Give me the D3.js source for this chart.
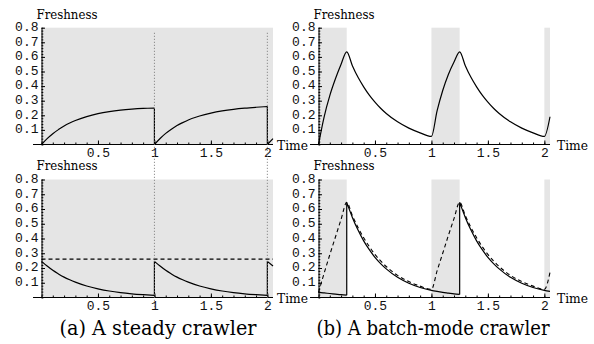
<!DOCTYPE html>
<html>
<head>
<meta charset="utf-8">
<script src="https://cdn.jsdelivr.net/npm/d3@7"></script>
<style>
body { margin: 0; background: #fff; }
.shade { fill: #e5e5e5; }
.curve { fill: none; stroke: #000; stroke-width: 1.2; }
.dashed { fill: none; stroke: #000; stroke-width: 1.1; stroke-dasharray: 4,3; }
.sync { stroke: #777; stroke-width: 1; stroke-dasharray: 1,2; }
.axisLine { stroke: #000; stroke-width: 1; }
.serif { font-family: "DejaVu Serif", "Liberation Serif", serif; fill: #000; }
</style>
</head>
<body>
<svg id="chart"></svg>
<script>
var width = 594;
var height = 344;
var mono = "'Liberation Mono', 'DejaVu Sans Mono', monospace";

// ticks
var yTicks = [0.1, 0.2, 0.3, 0.4, 0.5, 0.6, 0.7, 0.8];
var yTickLabels = ["0.1", "0.2", "0.3", "0.4", "0.5", "0.6", "0.7", "0.8"];
var xTicks = [0.5, 1, 1.5, 2];
var xTickLabels = ["0.5", "1", "1.5", "2"];

// (a) steady crawler
var syncTimes = [1, 2];
var steadyWindows = [[0, 2.05]];
var steadyTopT = [0, 0.05, 0.1, 0.15, 0.2, 0.25, 0.3, 0.4, 0.5, 0.6, 0.7, 0.8, 0.9, 1,
                  1, 1.05, 1.1, 1.15, 1.2, 1.25, 1.3, 1.4, 1.5, 1.6, 1.7, 1.8, 1.9, 2,
                  2, 2.05];
var steadyTopF = [0, 0.040, 0.074, 0.102, 0.127, 0.147, 0.164, 0.191, 0.211, 0.225, 0.235, 0.242, 0.247, 0.250,
                  0, 0.041, 0.076, 0.105, 0.130, 0.150, 0.168, 0.195, 0.215, 0.230, 0.241, 0.249, 0.255, 0.260,
                  0, 0.040];
var steadyBottomT = [0, 0.05, 0.1, 0.15, 0.2, 0.25, 0.3, 0.4, 0.5, 0.6, 0.7, 0.8, 0.9, 1,
                     1, 1.05, 1.1, 1.15, 1.2, 1.25, 1.3, 1.4, 1.5, 1.6, 1.7, 1.8, 1.9, 2,
                     2, 2.05];
var steadyBottomF = [0.245, 0.213, 0.184, 0.160, 0.138, 0.120, 0.104, 0.078, 0.059, 0.044, 0.033, 0.025, 0.019, 0.014,
                     0.245, 0.213, 0.184, 0.160, 0.138, 0.120, 0.104, 0.078, 0.059, 0.044, 0.033, 0.025, 0.019, 0.014,
                     0.245, 0.213];
var steadyMean = [0.26];

// (b) batch-mode crawler
var batchWindows = [[0, 0.25], [1, 1.25], [2, 2.05]];
var batchTopT = [0, 0.05, 0.1, 0.15, 0.2, 0.25, 0.3, 0.35, 0.4, 0.45, 0.5, 0.55, 0.6, 0.7, 0.8, 0.9, 1,
                 1.05, 1.1, 1.15, 1.2, 1.25, 1.3, 1.35, 1.4, 1.45, 1.5, 1.55, 1.6, 1.7, 1.8, 1.9, 2, 2.05];
var batchTopF = [0, 0.19, 0.335, 0.45, 0.55, 0.635, 0.54, 0.46, 0.395, 0.338, 0.29, 0.248, 0.212, 0.155, 0.112, 0.08, 0.055,
                 0.23, 0.37, 0.48, 0.565, 0.635, 0.54, 0.46, 0.395, 0.338, 0.29, 0.248, 0.212, 0.155, 0.112, 0.08, 0.055, 0.19];
var batchSolidT = [0, 0.05, 0.1, 0.15, 0.2, 0.25,
                   0.25, 0.3, 0.35, 0.4, 0.45, 0.5, 0.55, 0.6, 0.7, 0.8, 0.9, 1, 1.05, 1.1, 1.15, 1.2, 1.25,
                   1.25, 1.3, 1.35, 1.4, 1.45, 1.5, 1.55, 1.6, 1.7, 1.8, 1.9, 2, 2.05];
var batchSolidF = [0.035, 0.031, 0.027, 0.023, 0.019, 0.016,
                   0.645, 0.543, 0.457, 0.384, 0.324, 0.272, 0.230, 0.194, 0.137, 0.097, 0.068, 0.048, 0.041, 0.035, 0.030, 0.025, 0.021,
                   0.645, 0.543, 0.457, 0.384, 0.324, 0.272, 0.230, 0.194, 0.137, 0.097, 0.068, 0.048, 0.041];
var batchDashT = [0, 0.05, 0.1, 0.15, 0.2, 0.25, 0.3, 0.35, 0.4, 0.45, 0.5, 0.55, 0.6, 0.7, 0.8, 0.9, 1,
                  1.05, 1.1, 1.15, 1.2, 1.25, 1.3, 1.35, 1.4, 1.45, 1.5, 1.55, 1.6, 1.7, 1.8, 1.9, 2, 2.05];
var batchDashF = [0.035, 0.165, 0.29, 0.41, 0.53, 0.645, 0.555, 0.475, 0.405, 0.345, 0.292, 0.248, 0.21, 0.15, 0.108, 0.077, 0.055,
                  0.18, 0.3, 0.42, 0.535, 0.645, 0.555, 0.475, 0.405, 0.345, 0.292, 0.248, 0.21, 0.15, 0.108, 0.077, 0.055, 0.17];

var svg = d3.select("#chart")
.attr("width", width)
.attr("height", height);

var leftX = d3.scaleLinear().domain([0, 2.05]).range([41.5, 273]);
var rightX = d3.scaleLinear().domain([0, 2.05]).range([318.5, 550]);
var topY = d3.scaleLinear().domain([0, 0.8]).range([144.5, 27.7]);
var bottomY = d3.scaleLinear().domain([0, 0.8]).range([297.5, 179.5]);

function drawFrame(x, y, windows, timeDx) {

	var g = svg.append("g");

	g.selectAll("rect.shade")
	.data(windows)
	.enter().append("rect")
	.attr("class", "shade")
	.attr("x", function(d) { return x(d[0]); })
	.attr("y", y(0.8))
	.attr("width", function(d) { return x(d[1]) - x(d[0]); })
	.attr("height", y(0) - y(0.8));

	// minor ticks
	g.append("g")
	.attr("transform", "translate(" + [x(0), 0] + ")")
	.call(d3.axisLeft(y).tickValues(y.ticks(40)).tickSize(-1.8).tickFormat(""))
	.call(function(a) { a.select(".domain").remove(); });
	g.append("g")
	.attr("transform", "translate(" + [0, y(0)] + ")")
	.call(d3.axisBottom(x).tickValues(x.ticks(20)).tickSize(-2).tickFormat(""))
	.call(function(a) { a.select(".domain").remove(); });

	var yAxis = g.append("g")
	.attr("transform", "translate(" + [x(0), 0] + ")")
	.call(d3.axisLeft(y)
		.tickValues(yTicks)
		.tickFormat(function(d, i) { return yTickLabels[i]; })
		.tickSizeInner(-3.5)
		.tickSizeOuter(0)
		.tickPadding(3));
	yAxis.selectAll("text")
	.attr("dy", "0.22em");

	var xAxis = g.append("g")
	.attr("transform", "translate(" + [0, y(0)] + ")")
	.call(d3.axisBottom(x)
		.tickValues(xTicks)
		.tickFormat(function(d, i) { return xTickLabels[i]; })
		.tickSizeInner(-4)
		.tickSizeOuter(0)
		.tickPadding(3.5));
	xAxis.select(".domain").remove();

	g.selectAll(".tick text")
	.attr("font-family", mono)
	.attr("font-size", "13px")
	.attr("fill", "#111");

	g.append("line")
	.attr("class", "axisLine")
	.attr("x1", x(-0.075))
	.attr("x2", x(2.05))
	.attr("y1", y(0))
	.attr("y2", y(0));

	g.append("text")
	.attr("class", "serif")
	.attr("font-size", "13.7px")
	.attr("x", x(0) - 5)
	.attr("y", y(0.8) - 9.2)
	.attr("textLength", 61)
	.attr("lengthAdjust", "spacingAndGlyphs")
	.text("Freshness");

	g.append("text")
	.attr("class", "serif")
	.attr("font-size", "13.7px")
	.attr("x", x(2.05) + timeDx)
	.attr("y", y(0) + 5)
	.attr("textLength", 31)
	.attr("lengthAdjust", "spacingAndGlyphs")
	.text("Time");

	return g;
}

function drawCurve(g, x, y, t, f, cls) {
	var line = d3.line()
	.x(function(d) { return x(d[0]); })
	.y(function(d) { return y(d[1]); })
	.curve(d3.curveMonotoneX);
	// split where time repeats so jumps stay vertical
	var parts = [[]];
	d3.zip(t, f).forEach(function(p, i) {
		if (i > 0 && t[i] === t[i - 1]) {
			var last = parts[parts.length - 1];
			parts.push([last[last.length - 1], p]);
			parts.push([p]);
		} else {
			parts[parts.length - 1].push(p);
		}
	});
	g.append("path")
	.attr("class", cls)
	.attr("d", parts.map(function(p) { return line(p); }).join(""));
}

var gTopLeft = drawFrame(leftX, topY, steadyWindows, 4);
var gBottomLeft = drawFrame(leftX, bottomY, steadyWindows, 4);
var gTopRight = drawFrame(rightX, topY, batchWindows, 7);
var gBottomRight = drawFrame(rightX, bottomY, batchWindows, 7);

// synchronisation marks across both steady panels
svg.selectAll("line.sync")
.data(syncTimes)
.enter().append("line")
.attr("class", "sync")
.attr("x1", function(d) { return leftX(d); })
.attr("x2", function(d) { return leftX(d); })
.attr("y1", topY(0.765))
.attr("y2", bottomY(-0.07));

drawCurve(gTopLeft, leftX, topY, steadyTopT, steadyTopF, "curve");
drawCurve(gBottomLeft, leftX, bottomY, steadyBottomT, steadyBottomF, "curve");
gBottomLeft.selectAll("line.mean")
.data(steadyMean)
.enter().append("line")
.attr("class", "dashed")
.attr("x1", leftX(0))
.attr("x2", leftX(2.05))
.attr("y1", function(d) { return bottomY(d); })
.attr("y2", function(d) { return bottomY(d); });

drawCurve(gTopRight, rightX, topY, batchTopT, batchTopF, "curve");
drawCurve(gBottomRight, rightX, bottomY, batchSolidT, batchSolidF, "curve");
drawCurve(gBottomRight, rightX, bottomY, batchDashT, batchDashF, "dashed");

svg.append("text")
.attr("class", "serif")
.attr("font-size", "21px")
.attr("x", 158)
.attr("y", 335)
.attr("text-anchor", "middle")
.attr("textLength", 197)
.attr("lengthAdjust", "spacingAndGlyphs")
.text("(a) A steady crawler");

svg.append("text")
.attr("class", "serif")
.attr("font-size", "21px")
.attr("x", 433)
.attr("y", 335)
.attr("text-anchor", "middle")
.attr("textLength", 233)
.attr("lengthAdjust", "spacingAndGlyphs")
.text("(b) A batch-mode crawler");
</script>
</body>
</html>
